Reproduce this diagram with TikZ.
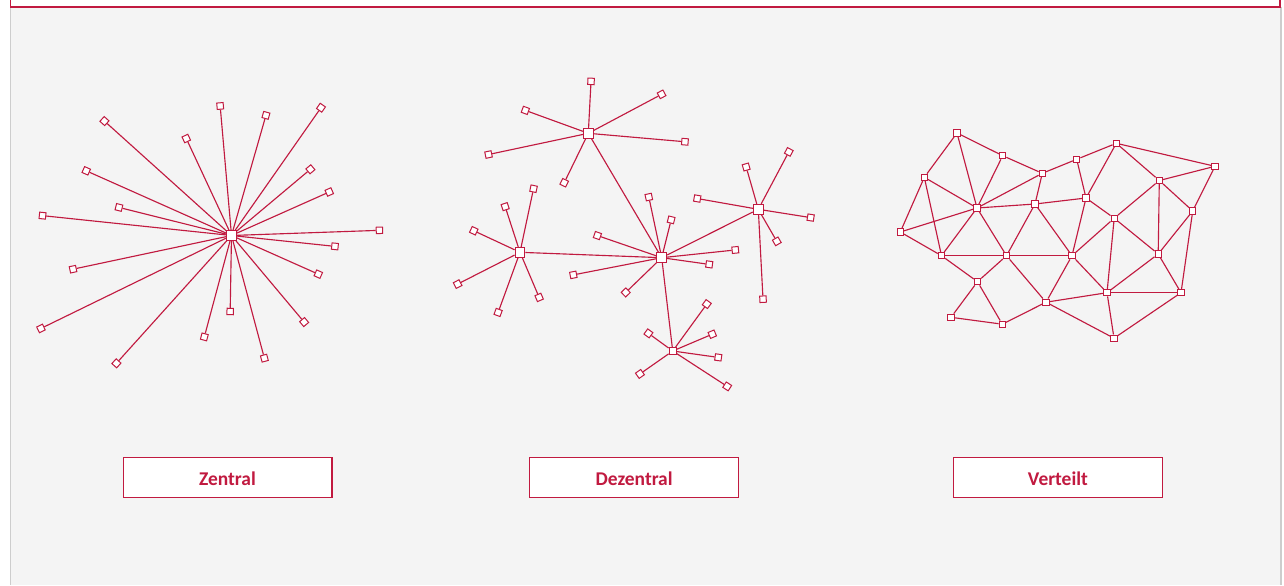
\documentclass[tikz,border=0pt]{standalone}
\usepackage{fontspec}
\setmainfont{Carlito}
\usetikzlibrary{positioning, calc}
\definecolor{netred}{RGB}{193,26,64}
\definecolor{panel}{RGB}{244,244,244}
\definecolor{rim}{RGB}{205,205,205}
\tikzset{
  link/.style = {draw = netred, line width = 0.85pt},
  peer/.style = {draw = netred, fill = white, line width = 0.75pt,
    inner sep = 0pt, minimum size = 4.8pt},
  hub/.style = {peer, minimum size = 7.4pt},
  caption/.style = {draw = netred, fill = white, line width = 0.9pt,
    minimum width = 156.6pt, minimum height = 30.2pt, inner sep = 0pt,
    text height = 12.6pt, text depth = 0pt,
    text = netred, font = \bfseries\fontsize{14.6}{16}\selectfont}
}

\begin{document}
\begin{tikzpicture}[x = 0.75pt, y = 0.75pt]

% frame
\useasboundingbox (0,0) rectangle (1284,-585);
\fill [panel] (10,0) rectangle (1281,-585);
\draw [rim, line width = 1pt] (10.5,-7) -- (10.5,-585);
\draw [rim, line width = 1pt] (1281,-7) -- (1281,-585);
\draw [netred, fill = white, line width = 0.9pt] (10.5,8) rectangle (1280,-7);

% zentral
\node [hub, minimum size = 6.8pt] (zc) at (231.5,-235.5) {};
\foreach \a/\r [count = \i] in {95/130, 74/125, 55/156, 138/171, 115/107,
    40/103, 156/159, 24/107, 166/116, 174/190, 2/148, -6/104, 192/162,
    -24/95, 206/212, -50/113, -91/76, -105/105, -75/127, 228/172} {
  \node [peer, rotate = \a] (z\i) at ($(zc)+(\a:\r)$) {};
  \draw [link] (zc) -- (z\i);
}

% dezentral
\node [hub] (dA) at (588.3,-133.3) {};
\node [hub] (dB) at (520,-252.3) {};
\node [hub] (dM) at (661.7,-257.7) {};
\node [hub] (dR) at (758.3,-209.3) {};
\node [peer, minimum size = 5.4pt] (dS) at (672.7,-351) {};

\foreach \h/\leaves in {
    dA/{87/52, 28/83, 160/67, -5/97, 192/102, 244/55},
    dB/{78/65, 108/48, 155/51, 207/70, 250/64, -67/49},
    dM/{102/62, 76/39, 161/68, 6/74, -8/48, 191/90, 224/50},
    dR/{106/44, 62/65, 170/62, -9/53, -60/37, -87/90},
    dS/{54/58, 144/30, 23/43, -8/46, 215/40, -33/65}} {
  \foreach \a/\r [count = \i] in \leaves {
    \node [peer, rotate = \a] (\h-\i) at ($(\h)+(\a:\r)$) {};
    \draw [link] (\h) -- (\h-\i);
  }
}
\draw [link] (dA) -- (dM);
\draw [link] (dB) -- (dM);
\draw [link] (dM) -- (dR);
\draw [link] (dM) -- (dS);

% verteilt
\foreach \x/\y [count = \i] in {957/133, 1002.7/155.7, 924.3/177.3,
    1042.3/173.3, 1076.7/159.3, 1116.3/143.3, 1215/166.3, 1159.3/180.5,
    977/208, 1035/204, 1086/198, 1192.7/211, 900.3/232, 1114.2/218.2,
    941.5/255.7, 1006.5/255.7, 1072/255.7, 1158.2/254, 977.5/281.7,
    1107/292.7, 1181/292.7, 1046/302.2, 951/317.3, 1002.3/324.2,
    1114/338.2}
  \node [peer] (v\i) at (\x,-\y) {};

\foreach \p/\q in {1/2, 1/3, 1/9, 2/9, 2/4, 3/9, 3/13, 3/15, 4/5, 4/9,
    4/10, 5/6, 5/11, 6/7, 6/8, 6/11, 7/8, 7/12, 8/12, 8/14, 8/18, 9/10,
    9/13, 9/15, 9/16, 10/11, 10/16, 10/17, 11/14, 11/17, 12/18, 12/21,
    13/15, 14/17, 14/18, 14/20, 15/16, 15/19, 16/17, 16/19, 16/22,
    17/20, 17/22, 18/20, 18/21, 19/23, 19/24, 20/21, 20/22, 20/25,
    21/25, 22/24, 22/25, 23/24}
  \draw [link] (v\p) -- (v\q);

% captions
\node [caption] (zentral) at (227.5,-477.5) {Zentral};
\node [caption] (dezentral) [right = 147.5pt of zentral] {Dezentral};
\node [caption] (verteilt) [right = 160.3pt of dezentral] {Verteilt};

\end{tikzpicture}
\end{document}
